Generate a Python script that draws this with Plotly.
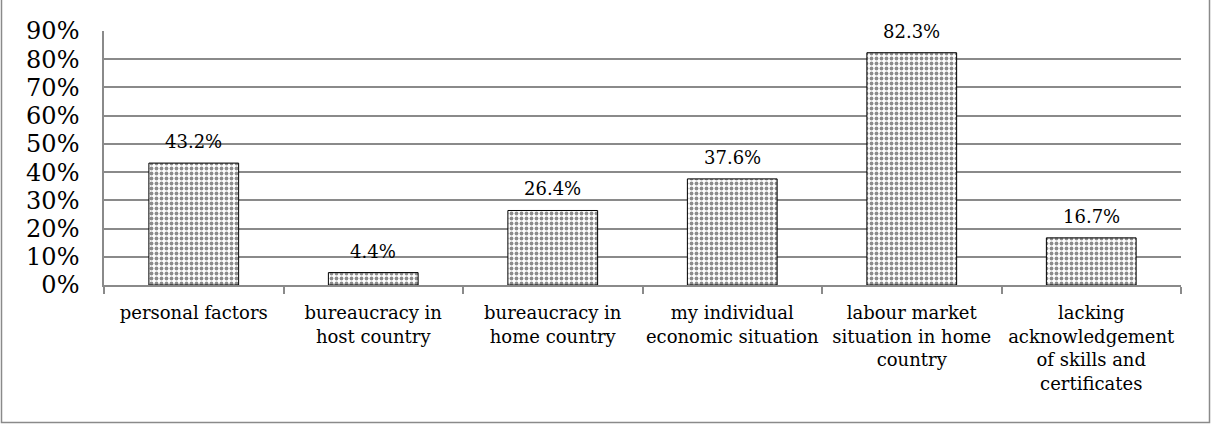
import plotly.graph_objects as go

categories = [
    "personal factors",
    "bureaucracy in<br>host country",
    "bureaucracy in<br>home country",
    "my individual<br>economic situation",
    "labour market<br>situation in home<br>country",
    "lacking<br>acknowledgement<br>of skills and<br>certificates",
]
shares = [43.2, 4.4, 26.4, 37.6, 82.3, 16.7]
y_ticks = [0, 10, 20, 30, 40, 50, 60, 70, 80, 90]
y_tick_labels = [f"{v}%" for v in y_ticks]

FONT = "DejaVu Serif"
GRID = "#8a8a8a"

W, H = 1212, 424
ML, MR, MT, MB = 104, 31, 31, 139

fig = go.Figure(
    go.Bar(
        x=categories,
        y=shares,
        marker=dict(
            color="white",
            line=dict(color="black", width=1),
            pattern=dict(shape=".", fgcolor="#1a1a1a", bgcolor="white",
                         size=5, solidity=0.45),
        ),
        hoverinfo="skip",
    )
)

# value labels above each bar
for cat, val in zip(categories, shares):
    fig.add_annotation(
        x=cat, y=val, text=f"{val:.1f}%", showarrow=False,
        yanchor="bottom", yshift=9,
        font=dict(family=FONT, size=18, color="black"),
    )

# outer chart frame (left, right and bottom edges)
pw, ph = W - ML - MR, H - MT - MB
x0 = (1.5 - ML) / pw
x1 = (1209.5 - ML) / pw
y0 = -(422.5 - (H - MB)) / ph
y1 = (H - MB + 5) / ph
fig.add_shape(type="path", xref="paper", yref="paper",
              path=f"M {x0} {y1} L {x0} {y0} L {x1} {y0} L {x1} {y1}",
              line=dict(color=GRID, width=1.5))

fig.update_layout(
    width=W, height=H,
    margin=dict(l=ML, r=MR, t=MT, b=MB),
    paper_bgcolor="white", plot_bgcolor="white",
    bargap=0.5,
    showlegend=False,
    font=dict(family=FONT, color="black"),
    xaxis=dict(
        type="category",
        tickson="boundaries", ticks="outside", ticklen=7, tickcolor=GRID,
        tickwidth=1.5, tickangle=0, automargin=False,
        showline=True, linecolor=GRID, linewidth=1.5,
        tickfont=dict(family=FONT, size=18, color="black"),
        ticklabelstandoff=11,
        showgrid=False,
    ),
    yaxis=dict(
        range=[0, 90], automargin=False,
        tickvals=y_ticks, ticktext=y_tick_labels,
        tickfont=dict(family=FONT, size=24, color="black"),
        ticks="", ticklabelstandoff=18,
        showline=True, linecolor=GRID, linewidth=1.5,
        showgrid=True, gridcolor=GRID, gridwidth=1.5,
        zeroline=False,
    ),
)

fig.write_html("out.html")
